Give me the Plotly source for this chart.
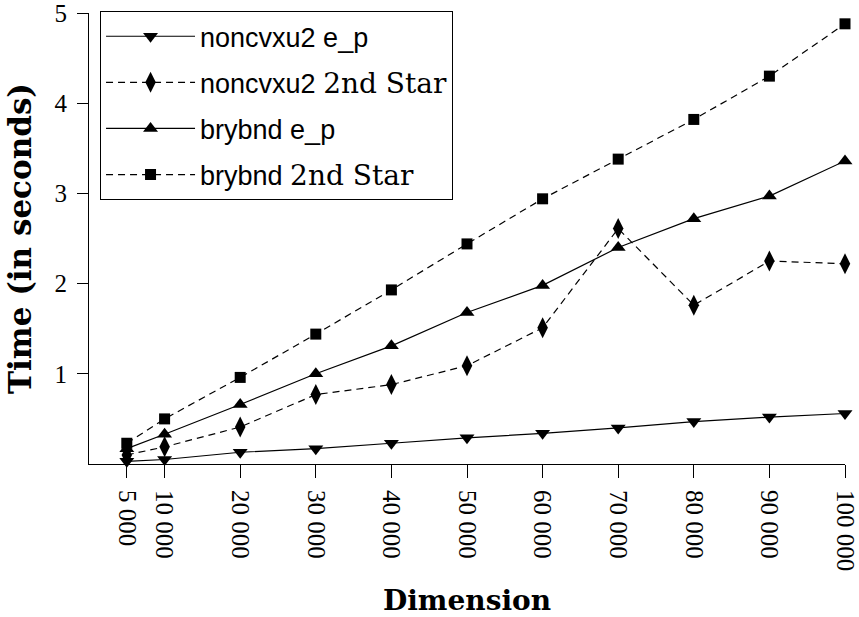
import plotly.graph_objects as go

dims = [5000, 10000, 20000, 30000, 40000, 50000, 60000, 70000, 80000, 90000, 100000]
tick_labels = ["5 000", "10 000", "20 000", "30 000", "40 000", "50 000",
               "60 000", "70 000", "80 000", "90 000", "100 000"]
y_ticks = [1, 2, 3, 4, 5]

noncvxu2_ep = [0.03, 0.05, 0.13, 0.17, 0.23, 0.29, 0.34, 0.40, 0.47, 0.52, 0.56]
noncvxu2_2nd = [0.10, 0.19, 0.41, 0.77, 0.88, 1.09, 1.51, 2.61, 1.76, 2.25, 2.22]
brybnd_ep = [0.17, 0.33, 0.66, 1.00, 1.31, 1.68, 1.98, 2.40, 2.72, 2.97, 3.36]
brybnd_2nd = [0.23, 0.50, 0.96, 1.44, 1.93, 2.44, 2.94, 3.38, 3.82, 4.30, 4.88]

SANS = "Liberation Sans"
SERIF = "Liberation Serif"

def nm(a, b, serif=False):
    if serif:
        return f"{a} <span style='font-family:DejaVu Serif;font-size:28px'>{b}</span>"
    return f"{a} {b}"

series = [
    (nm("noncvxu2", "e_p"), noncvxu2_ep, "triangle-down", "solid", 13),
    (nm("noncvxu2", "2nd Star", True), noncvxu2_2nd, "diamond-tall", "7px,5px", 15),
    (nm("brybnd", "e_p"), brybnd_ep, "triangle-up", "solid", 13),
    (nm("brybnd", "2nd Star", True), brybnd_2nd, "square", "7px,5px", 11),
]

fig = go.Figure()
for i, (name, ys, sym, dash, size) in enumerate(series):
    fig.add_trace(go.Scatter(
        x=dims, y=ys, name=name, mode="lines+markers",
        line=dict(color="black", width=1.2, dash=dash),
        marker=dict(symbol=sym, size=size, color="black"),
        legendgroup=f"g{i}", cliponaxis=False,
    ))

fig.update_layout(
    width=859, height=617,
    margin=dict(l=89, r=14, t=11, b=153),
    paper_bgcolor="white", plot_bgcolor="white",
    font=dict(family=SERIF, size=25, color="black"),
    showlegend=True,
    legend=dict(
        x=0.0146, y=1.004, xanchor="left", yanchor="top",
        bordercolor="black", borderwidth=1, bgcolor="white",
        font=dict(family=SANS, size=27, color="black"),
        tracegroupgap=8, itemwidth=89,
    ),
    xaxis=dict(
        range=[0, 100000], tickvals=dims, ticktext=tick_labels,
        tickangle=90, ticks="outside", ticklen=13, tickcolor="black",
        showline=True, linecolor="black", linewidth=1.2,
        showgrid=False, zeroline=False, automargin=False,
        tickfont=dict(family=SERIF, size=25), ticklabelstandoff=7,
        ticklabeloverflow="allow",
        title=dict(text="<b>Dimension</b>", font=dict(family="DejaVu Serif", size=28), standoff=29),
    ),
    yaxis=dict(
        range=[0, 5], tickvals=y_ticks,
        ticks="outside", ticklen=11, tickcolor="black",
        showline=True, linecolor="black", linewidth=1.2,
        showgrid=False, zeroline=False, automargin=False,
        tickfont=dict(family=SERIF, size=25), ticklabelstandoff=5,
        ticklabeloverflow="allow",
        title=dict(text="<b>Time (in seconds)</b>", font=dict(family="DejaVu Serif", size=31), standoff=13),
    ),
)

fig.write_html("out.html", config={"displayModeBar": False},
               post_script="document.body.style.margin='0';")
